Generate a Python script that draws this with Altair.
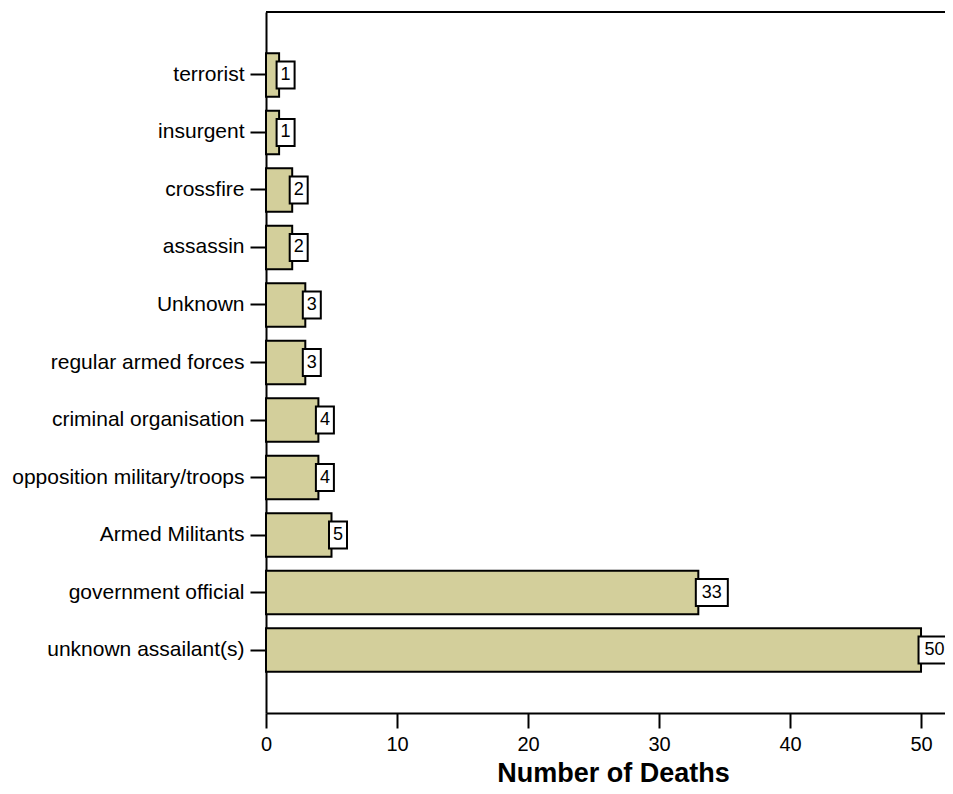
import altair as alt
import pandas as pd

categories = ["terrorist", "insurgent", "crossfire", "assassin", "Unknown",
              "regular armed forces", "criminal organisation",
              "opposition military/troops", "Armed Militants",
              "government official", "unknown assailant(s)"]
deaths = [1, 1, 2, 2, 3, 3, 4, 4, 5, 33, 50]
x_ticks = [0, 10, 20, 30, 40, 50]

df = pd.DataFrame({"category": categories, "deaths": deaths})

FONT = "Liberation Sans"
W, H = 679, 701

y_enc = alt.Y("category:N", sort=categories, title=None,
              scale=alt.Scale(paddingInner=0.243, paddingOuter=0.717),
              axis=alt.Axis(labelFontSize=21, labelFont=FONT, labelColor="black",
                            tickSize=16, labelPadding=6, tickColor="black", tickWidth=2,
                            domainColor="black", domainWidth=2, labelLimit=400))
x_scale = alt.Scale(domain=[0, 51.83], nice=False, zero=True)
x_axis = alt.Axis(values=x_ticks, title="Number of Deaths", titleFont=FONT,
                  titleFontSize=27, titleFontWeight="bold", titleColor="black",
                  titleX=347, titleY=68, titleBaseline="alphabetic", titleAlign="center",
                  labelFontSize=20, labelFont=FONT, labelColor="black",
                  tickSize=15, tickWidth=2, tickColor="black",
                  domainColor="black", domainWidth=2, labelPadding=6,
                  grid=False, labelFlush=False)

x_enc = alt.X("deaths:Q", scale=x_scale, axis=x_axis)
base = alt.Chart(df)

bars = base.mark_bar(fill="#d3cf9b", stroke="black", strokeWidth=2).encode(
    x=x_enc, y=y_enc)

one = base.transform_filter("datum.deaths < 10")
two = base.transform_filter("datum.deaths >= 10")

box1 = one.mark_bar(fill="white", stroke="black", strokeWidth=2, height=27,
                    orient="horizontal", xOffset=-2.5, x2Offset=15.5).encode(
    x=x_enc, x2=alt.X2("deaths:Q"), y=y_enc)
box2 = two.mark_bar(fill="white", stroke="black", strokeWidth=2, height=27,
                    orient="horizontal", xOffset=-2.5, x2Offset=29.5).encode(
    x=x_enc, x2=alt.X2("deaths:Q"), y=y_enc)

txt1 = one.mark_text(font=FONT, fontSize=18, color="black", align="center",
                     baseline="middle", dx=6.5).encode(x=x_enc, y=y_enc, text="deaths:Q")
txt2 = two.mark_text(font=FONT, fontSize=18, color="black", align="center",
                     baseline="middle", dx=13.5).encode(x=x_enc, y=y_enc, text="deaths:Q")

top = alt.Chart(pd.DataFrame({"a": [0]})).mark_rule(color="black", strokeWidth=2).encode(
    x=alt.value(0), x2=alt.value(W), y=alt.value(0))

chart = alt.layer(bars, box1, box2, txt1, txt2, top).properties(
    width=W, height=H,
    padding={"left": 258, "top": 4, "right": 0, "bottom": 73},
    autosize=alt.AutoSizeParams(type="none"),
    background="white",
).configure_view(stroke=None)

chart.save("out.html", embed_options={"renderer": "svg", "actions": False})
